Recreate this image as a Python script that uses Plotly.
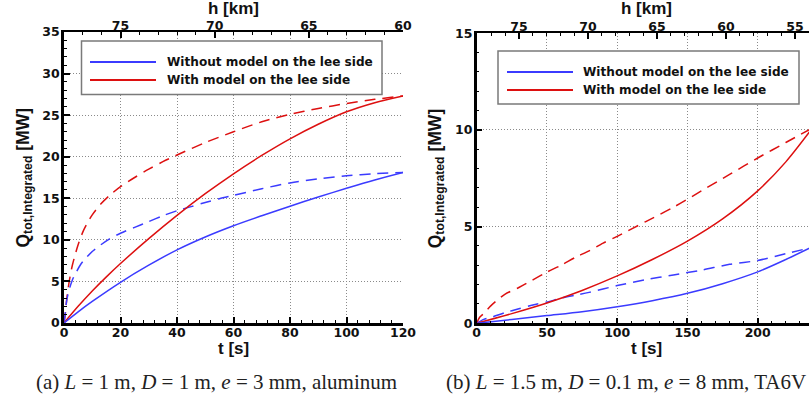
import plotly.graph_objects as go

# ---------------- data ----------------
# Panel (a): L = 1 m, D = 1 m, e = 3 mm, aluminum
a_t_without_solid = [0, 5, 10, 20, 30, 40, 50, 60, 70, 80, 90, 100, 110, 120]
a_q_without_solid = [0, 1.35, 2.6, 4.9, 6.95, 8.8, 10.35, 11.7, 12.9, 14.05, 15.15, 16.2, 17.2, 18.1]

a_t_with_solid = [0, 5, 10, 15, 20, 30, 40, 50, 60, 70, 80, 90, 100, 110, 120]
a_q_with_solid = [0, 2.0, 3.85, 5.55, 7.15, 10.15, 12.95, 15.55, 17.95, 20.15, 22.15, 23.9, 25.4, 26.5, 27.3]

a_t_without_dash = [0, 0.5, 1, 2, 3, 4, 6, 8, 10, 13, 16, 20, 25, 30, 35, 40, 45, 50, 55, 60, 70, 80, 90, 100, 110, 120]
a_q_without_dash = [0, 1.3, 2.8, 4.2, 5.2, 5.9, 7.1, 7.9, 8.6, 9.4, 10.1, 10.8, 11.5, 12.2, 12.9, 13.5, 14.0, 14.5, 14.95, 15.35, 16.15, 16.85, 17.35, 17.7, 17.95, 18.1]

a_t_with_dash = [0, 0.5, 1, 2, 3, 5, 7, 10, 13, 16, 20, 25, 30, 35, 40, 50, 60, 70, 80, 90, 100, 110, 120]
a_q_with_dash = [0, 1.2, 3.0, 5.3, 7.0, 9.4, 11.2, 13.0, 14.3, 15.3, 16.4, 17.5, 18.5, 19.4, 20.2, 21.7, 23.0, 24.2, 25.1, 25.8, 26.4, 26.9, 27.3]

# Panel (b): L = 1.5 m, D = 0.1 m, e = 8 mm, TA6V
b_t_without_solid = [0, 25, 50, 75, 100, 125, 150, 175, 200, 220, 240]
b_q_without_solid = [0, 0.2, 0.4, 0.6, 0.86, 1.17, 1.55, 2.05, 2.66, 3.3, 4.0]

b_t_with_solid = [0, 25, 50, 75, 100, 125, 150, 175, 200, 220, 240]
b_q_with_solid = [0, 0.5, 1.05, 1.7, 2.45, 3.3, 4.25, 5.4, 6.85, 8.35, 10.2]

b_t_without_dash = [0, 5, 10, 20, 30, 40, 50, 60, 70, 80, 100, 120, 140, 160, 180, 200, 220, 240]
b_q_without_dash = [0, 0.2, 0.3, 0.55, 0.75, 0.95, 1.1, 1.3, 1.45, 1.6, 1.95, 2.25, 2.5, 2.75, 3.05, 3.25, 3.6, 3.95]

b_t_with_dash = [0, 2, 5, 10, 20, 30, 40, 50, 60, 70, 80, 90, 100, 120, 140, 160, 180, 200, 220, 240]
b_q_with_dash = [0, 0.3, 0.5, 0.9, 1.5, 1.85, 2.25, 2.65, 3.0, 3.4, 3.75, 4.15, 4.5, 5.25, 6.0, 6.85, 7.7, 8.55, 9.35, 10.15]

# altitude (top axis) ranges corresponding to the time axis ends
a_h_range = [78.0, 60.0]
b_h_range = [78.07, 53.98]
a_t_range = [0, 120]
b_t_range = [0, 236.5]

legend_labels = ["Without model on the lee side", "With model on the lee side"]
captions = ["(a) <i>L</i> = 1 m, <i>D</i> = 1 m, <i>e</i> = 3 mm, aluminum",
            "(b) <i>L</i> = 1.5 m, <i>D</i> = 0.1 m, <i>e</i> = 8 mm, TA6V"]

# ---------------- styling ----------------
W, H = 809, 402
BLUE = "#3b3bff"
RED = "#dd1010"
DASH = "11px,7px"
LW = 1.5


def px(x):
    return x / W


def py(y):
    return (H - y) / H


fig = go.Figure()


def add_line(t, q, color, dash, xa, ya):
    fig.add_trace(go.Scatter(x=t, y=q, mode="lines", xaxis=xa, yaxis=ya,
                             line=dict(color=color, width=LW, dash=dash, shape="spline", smoothing=0.8),
                             showlegend=False, hoverinfo="skip"))


add_line(a_t_with_dash, a_q_with_dash, RED, DASH, "x", "y")
add_line(a_t_without_dash, a_q_without_dash, BLUE, DASH, "x", "y")
add_line(a_t_with_solid, a_q_with_solid, RED, "solid", "x", "y")
add_line(a_t_without_solid, a_q_without_solid, BLUE, "solid", "x", "y")

add_line(b_t_with_dash, b_q_with_dash, RED, DASH, "x2", "y2")
add_line(b_t_without_dash, b_q_without_dash, BLUE, DASH, "x2", "y2")
add_line(b_t_with_solid, b_q_with_solid, RED, "solid", "x2", "y2")
add_line(b_t_without_solid, b_q_without_solid, BLUE, "solid", "x2", "y2")

# invisible traces so the top axes exist
fig.add_trace(go.Scatter(x=a_h_range, y=[None, None], xaxis="x3", yaxis="y", mode="lines",
                         showlegend=False, hoverinfo="skip"))
fig.add_trace(go.Scatter(x=b_h_range, y=[None, None], xaxis="x4", yaxis="y2", mode="lines",
                         showlegend=False, hoverinfo="skip"))

TICKFONT = dict(family="DejaVu Sans", size=12.5, color="#111", weight="bold")
GRID = dict(showgrid=True, gridcolor="#8a8a8a", gridwidth=1, griddash="1px,2px")


def xaxis_bottom(domain, rng, dtick, minor):
    return dict(domain=domain, range=rng, dtick=dtick, tick0=0, showline=True, linecolor="black",
                linewidth=2.5, ticks="inside", ticklen=6, tickwidth=2, tickcolor="black",
                minor=dict(dtick=minor, ticks="inside", ticklen=3, tickwidth=1.2, tickcolor="black", showgrid=False),
                tickfont=TICKFONT, zeroline=False, mirror=False, fixedrange=True, automargin=False,
                ticklabelstandoff=-4, ticklabeloverflow="allow", **GRID)


def yaxis_left(domain, rng, anchor):
    return dict(domain=domain, range=rng, dtick=5, tick0=0, showline=True, linecolor="black",
                linewidth=2.5, ticks="inside", ticklen=6, tickwidth=2, tickcolor="black",
                minor=dict(dtick=1, ticks="inside", ticklen=3, tickwidth=1.2, tickcolor="black", showgrid=False),
                tickfont=TICKFONT, zeroline=False, mirror=False, anchor=anchor, fixedrange=True,
                automargin=False, ticklabelstandoff=-1, **GRID)


def xaxis_top(over, anchor, rng):
    return dict(overlaying=over, anchor=anchor, side="top", range=rng, dtick=5, tick0=0,
                showline=True, linecolor="black", linewidth=2, ticks="inside", ticklen=6, tickwidth=2,
                tickcolor="black",
                minor=dict(dtick=1, ticks="inside", ticklen=3, tickwidth=1.2, tickcolor="black", showgrid=False),
                tickfont=TICKFONT, showgrid=False, zeroline=False, fixedrange=True, automargin=False,
                ticklabelstandoff=-5, ticklabeloverflow="allow")


a_xdom = [px(64), px(403)]
b_xdom = [px(476.7), 1.0]
a_ydom = [py(323), py(32)]
b_ydom = [py(323.3), py(33.3)]

fig.update_layout(
    width=W, height=H, margin=dict(l=0, r=0, t=0, b=0, autoexpand=False),
    paper_bgcolor="white", plot_bgcolor="white",
    xaxis=xaxis_bottom(a_xdom, a_t_range, 20, 4) | dict(anchor="y"),
    yaxis=yaxis_left(a_ydom, [0, 35], "x"),
    xaxis2=xaxis_bottom(b_xdom, b_t_range, 50, 10) | dict(anchor="y2"),
    yaxis2=yaxis_left(b_ydom, [0, 15], "x2"),
    xaxis3=xaxis_top("x", "y", a_h_range),
    xaxis4=xaxis_top("x2", "y2", b_h_range),
    showlegend=False,
)

TITLEFONT = dict(family="Liberation Sans", size=17, color="#111", weight="bold")
YTITLEFONT = dict(family="Liberation Sans", size=17.5, color="#111", weight="bold")
annotations = []
shapes = []

# axis titles
for cx, ycen, x_ytitle in [(233.5, 177.5, 24), (646, 178.3, 436)]:
    annotations.append(dict(text="h [km]", x=px(cx), y=py(8.5), xref="paper", yref="paper",
                            showarrow=False, xanchor="center", yanchor="middle", font=TITLEFONT))
    annotations.append(dict(text="t [s]", x=px(cx), y=py(348), xref="paper", yref="paper",
                            showarrow=False, xanchor="center", yanchor="middle", font=TITLEFONT))
    annotations.append(dict(text="Q<sub>tot,Integrated</sub> [MW]", x=px(x_ytitle), y=py(ycen),
                            xref="paper", yref="paper", showarrow=False, textangle=-90,
                            xanchor="center", yanchor="middle", font=YTITLEFONT))

# legends (drawn as a box, sample lines and labels)
LEGFONT = dict(family="DejaVu Sans", size=12.1, color="#111", weight="bold")
for (bx0, bx1, by0, by1, lx0, lx1, tx, rows) in [
        (81.5, 382, 41, 94.5, 90, 156, 165, (62, 80)),
        (498, 799, 51, 104, 507, 573, 581, (72, 90))]:
    shapes.append(dict(type="rect", xref="paper", yref="paper", x0=px(bx0), x1=px(bx1),
                       y0=py(by1), y1=py(by0), line=dict(color="#7a7a7a", width=1.5),
                       fillcolor="white", layer="above"))
    for label, color, ry in zip(legend_labels, [BLUE, RED], rows):
        shapes.append(dict(type="line", xref="paper", yref="paper", x0=px(lx0), x1=px(lx1),
                           y0=py(ry), y1=py(ry), line=dict(color=color, width=2), layer="above"))
        annotations.append(dict(text=label, x=px(tx), y=py(ry), xref="paper", yref="paper",
                                showarrow=False, xanchor="left", yanchor="middle", font=LEGFONT))

# captions
for cap, cx, anchor in zip(captions, [216, 444], ["center", "left"]):
    annotations.append(dict(text=cap, x=px(cx), y=py(382), xref="paper", yref="paper",
                            showarrow=False, xanchor=anchor, yanchor="middle",
                            font=dict(family="Liberation Serif", size=21, color="#222")))

fig.update_layout(annotations=annotations, shapes=shapes)
fig.write_html("out.html", config={"displayModeBar": False},
               post_script="document.body.style.margin='0';document.body.style.overflow='hidden';")
